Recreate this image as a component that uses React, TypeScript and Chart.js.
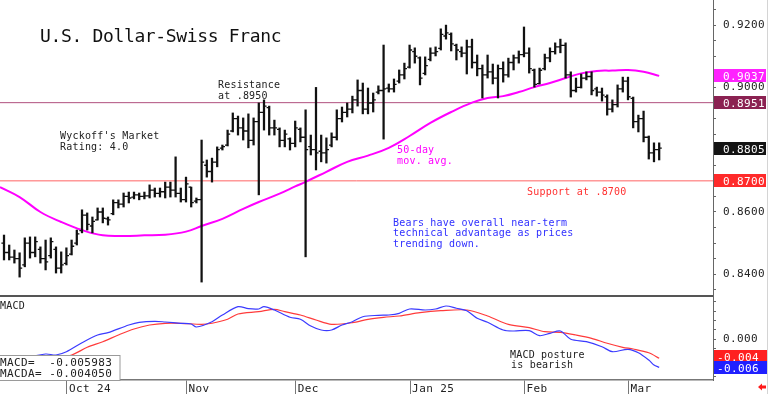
import React, { useEffect, useRef } from "react";
import { Chart, registerables } from "chart.js";

Chart.register(...registerables);

// ---- price bars (one per trading day, index 0 = first bar) ----
const highs = [
  0.8526, 0.8494, 0.8478, 0.8469, 0.8517, 0.852, 0.852, 0.8488, 0.851, 0.8517,
  0.8488, 0.8472, 0.8485, 0.851, 0.8542, 0.8607, 0.8597, 0.8584, 0.8613, 0.8613,
  0.8584, 0.8639, 0.8639, 0.8661, 0.8664, 0.8664, 0.8661, 0.8664, 0.8687, 0.8677,
  0.8677, 0.8696, 0.8696, 0.8777, 0.8677, 0.8712, 0.868, 0.8645, 0.8831, 0.8767,
  0.8773, 0.8809, 0.8815, 0.8863, 0.8918, 0.8908, 0.8902, 0.8915, 0.8902, 0.895,
  0.896, 0.894, 0.8895, 0.887, 0.8863, 0.8838, 0.8892, 0.887, 0.8928, 0.8847,
  0.9, 0.8847, 0.8838, 0.8854, 0.8928, 0.8937, 0.895, 0.8972, 0.9024, 0.9014,
  0.8998, 0.8982, 0.9005, 0.9136, 0.9011, 0.9027, 0.9056, 0.9078, 0.9136, 0.9127,
  0.9098, 0.9098, 0.9127, 0.913, 0.9188, 0.92, 0.9175, 0.9139, 0.913, 0.9152,
  0.9155, 0.9104, 0.9072, 0.9104, 0.9075, 0.9072, 0.9082, 0.9094, 0.9104, 0.9117,
  0.9194, 0.9127, 0.9059, 0.9062, 0.9107, 0.9127, 0.9143, 0.9155, 0.9143, 0.905,
  0.903, 0.9043, 0.905, 0.905, 0.9001, 0.8998, 0.8976, 0.896, 0.9008, 0.9033,
  0.9033, 0.8969, 0.8911, 0.8924, 0.8844, 0.8822, 0.8822,
];
const lows = [
  0.8446, 0.8446, 0.8436, 0.8391, 0.8424, 0.8452, 0.8456, 0.8436, 0.8414, 0.8452,
  0.8404, 0.8404, 0.843, 0.8462, 0.8494, 0.8533, 0.8542, 0.8533, 0.8574, 0.8565,
  0.8558, 0.8591, 0.8613, 0.8616, 0.8629, 0.8642, 0.8639, 0.8642, 0.8645, 0.8648,
  0.8648, 0.8645, 0.8648, 0.8648, 0.8632, 0.8632, 0.8616, 0.8629, 0.8375, 0.8712,
  0.8696, 0.8745, 0.8799, 0.8812, 0.8857, 0.8847, 0.8831, 0.8806, 0.8815, 0.8655,
  0.8863, 0.8847, 0.8847, 0.8809, 0.8809, 0.8799, 0.8809, 0.8825, 0.8456, 0.8783,
  0.8735, 0.8761, 0.8757, 0.8809, 0.8831, 0.8889, 0.8905, 0.8918, 0.894, 0.8915,
  0.8915, 0.8921, 0.8979, 0.8834, 0.8985, 0.8985, 0.9014, 0.9027, 0.9062, 0.9078,
  0.9008, 0.904, 0.9085, 0.9101, 0.912, 0.9155, 0.9117, 0.9088, 0.9098, 0.9043,
  0.9062, 0.9037, 0.8966, 0.903, 0.9011, 0.8966, 0.9017, 0.9033, 0.9056, 0.9078,
  0.9098, 0.9046, 0.9001, 0.9011, 0.9056, 0.9082, 0.9107, 0.9111, 0.903, 0.8969,
  0.8985, 0.8998, 0.9024, 0.8976, 0.8972, 0.8956, 0.8911, 0.8921, 0.8937, 0.8985,
  0.896, 0.887, 0.8857, 0.8825, 0.877, 0.8761, 0.8767,
];
const opens = [
  0.85, 0.847, 0.8455, 0.845, 0.843, 0.85, 0.847, 0.848, 0.845, 0.846,
  0.848, 0.842, 0.8435, 0.8465, 0.85, 0.854, 0.859, 0.8555, 0.8575, 0.86,
  0.8578, 0.8595, 0.863, 0.8625, 0.865, 0.8648, 0.8655, 0.865, 0.8652, 0.867,
  0.866, 0.8665, 0.868, 0.867, 0.866, 0.864, 0.868, 0.8635, 0.864, 0.875,
  0.873, 0.876, 0.8805, 0.8815, 0.886, 0.89, 0.887, 0.886, 0.883, 0.889,
  0.892, 0.8935, 0.887, 0.8865, 0.883, 0.8835, 0.882, 0.8865, 0.884, 0.881,
  0.88, 0.8795, 0.879, 0.8815, 0.884, 0.89, 0.892, 0.893, 0.896, 0.899,
  0.893, 0.895, 0.8985, 0.899, 0.8998, 0.8995, 0.902, 0.904, 0.9065, 0.9115,
  0.9095, 0.9045, 0.909, 0.911, 0.9125, 0.9165, 0.917, 0.9135, 0.9115, 0.911,
  0.913, 0.908, 0.906, 0.904, 0.905, 0.903, 0.906, 0.904, 0.908, 0.9095,
  0.9105, 0.911, 0.9055, 0.9012, 0.906, 0.9095, 0.9115, 0.913, 0.9135, 0.904,
  0.899, 0.9, 0.903, 0.9035, 0.8995, 0.8985, 0.897, 0.893, 0.8945, 0.8995,
  0.902, 0.8965, 0.889, 0.89, 0.884, 0.879, 0.88,
];
const closes = [
  0.847, 0.8455, 0.845, 0.842, 0.85, 0.847, 0.8505, 0.845, 0.844, 0.8505,
  0.842, 0.843, 0.846, 0.849, 0.853, 0.859, 0.856, 0.857, 0.86, 0.858,
  0.8575, 0.863, 0.8625, 0.865, 0.8645, 0.8655, 0.865, 0.8652, 0.867, 0.866,
  0.8665, 0.868, 0.867, 0.866, 0.864, 0.869, 0.863, 0.864, 0.876, 0.873,
  0.876, 0.88, 0.881, 0.885, 0.89, 0.887, 0.886, 0.883, 0.889, 0.892,
  0.894, 0.887, 0.887, 0.883, 0.885, 0.882, 0.887, 0.884, 0.88, 0.88,
  0.879, 0.879, 0.88, 0.884, 0.89, 0.892, 0.893, 0.896, 0.899, 0.893,
  0.895, 0.896, 0.899, 0.8995, 0.8995, 0.901, 0.904, 0.906, 0.912, 0.91,
  0.903, 0.907, 0.911, 0.9115, 0.917, 0.9175, 0.914, 0.912, 0.911, 0.913,
  0.908, 0.906, 0.904, 0.905, 0.903, 0.906, 0.904, 0.908, 0.9095, 0.9105,
  0.911, 0.906, 0.901, 0.9055, 0.9095, 0.9115, 0.913, 0.9135, 0.904, 0.899,
  0.9, 0.903, 0.9035, 0.899, 0.8985, 0.8975, 0.893, 0.8945, 0.8995, 0.902,
  0.897, 0.889, 0.89, 0.884, 0.879, 0.88, 0.8805,
];

// ---- 50-day moving average (bar index, value) ----
const maIdx = [-0.77, 3, 7, 11, 15, 19, 23, 27, 31, 35, 38, 42, 46, 49, 53, 56, 58, 62, 66, 70, 74, 78, 82, 86, 90, 93, 96, 99, 102, 105, 108, 111, 114, 117, 120, 123, 126];
const maVal = [0.868, 0.8648, 0.86, 0.8568, 0.8542, 0.8525, 0.8523, 0.8525, 0.8527, 0.8537, 0.8555, 0.8578, 0.861, 0.8632, 0.8659, 0.8682, 0.8697, 0.8729, 0.8761, 0.8781, 0.8806, 0.8844, 0.8886, 0.8921, 0.8951, 0.8966, 0.8972, 0.8985, 0.9001, 0.9014, 0.903, 0.9045, 0.9053, 0.9054, 0.9056, 0.905, 0.9037];

// ---- MACD (blue) and MACD average (red) ----
const macdIdx = [0, 3, 8, 10, 12, 15, 18, 20, 24, 26, 29, 31, 34, 36, 37, 40, 42, 45, 47, 49, 50, 52, 55, 57, 59, 61, 63, 65, 67, 69, 72, 74, 76, 78, 81, 83, 85, 87, 89, 91, 93, 96, 98, 101, 103, 105, 107, 109, 112, 115, 117, 120, 122, 124, 125, 126];
const macdVal = [-0.0052, -0.0042, -0.00314, -0.00335, -0.00265, -0.00073, 0.00092, 0.00141, 0.00305, 0.00363, 0.00384, 0.00369, 0.00342, 0.00327, 0.00263, 0.00376, 0.00519, 0.00696, 0.00653, 0.00647, 0.00696, 0.00625, 0.0047, 0.00427, 0.00284, 0.00199, 0.00199, 0.00305, 0.00376, 0.00482, 0.00512, 0.00519, 0.00555, 0.00647, 0.00625, 0.00647, 0.00711, 0.00662, 0.0061, 0.00448, 0.00363, 0.00199, 0.00177, 0.00184, 0.00077, 0.00128, 0.00177, 0.0, -0.00051, -0.00158, -0.00265, -0.00213, -0.00286, -0.00442, -0.00549, -0.005983];
const sigIdx = [0, 5, 9, 13, 16, 19, 22, 25, 28, 31, 34, 38, 40, 43, 45, 49, 52, 54, 57, 60, 63, 67, 70, 73, 76, 80, 84, 89, 93, 97, 101, 104, 107, 110, 113, 116, 119, 121, 124, 126];
const sigVal = [-0.006, -0.005, -0.0042, -0.00335, -0.00171, -0.00051, 0.00092, 0.0022, 0.00305, 0.00342, 0.00342, 0.0032, 0.00342, 0.00427, 0.0054, 0.00589, 0.0064, 0.00589, 0.00519, 0.00412, 0.0032, 0.00354, 0.00427, 0.0047, 0.00497, 0.00568, 0.0061, 0.00625, 0.00497, 0.0032, 0.00248, 0.00162, 0.00149, 0.00092, 0.00021, -0.00085, -0.00171, -0.00207, -0.00286, -0.00405];

// ---- axis ticks and reference levels ----
const dateTickIdx = [12, 35, 56, 78, 100, 120];
const dateTickLabels = ["Oct 24", "Nov", "Dec", "Jan 25", "Feb", "Mar"];
const priceTickStep = 0.005;
const priceLabelStep = 0.02;
const macdTickStep = 0.002;
const resistance = 0.8951;
const support = 0.87;
const lastClose = 0.8805;
const maLast = 0.9037;
const macdLast = -0.005983;
const macdaLast = -0.00405;

const X_MIN = -0.77;
const X_MAX = 136.35;
const P_MIN = 0.83271;
const P_MAX = 0.92806;
const M_MIN = -0.008687;
const M_MAX = 0.009029;

const MONO = '"DejaVu Sans Mono", "Liberation Mono", monospace';

function stepTicks(s: any, step: number) {
  const out: any[] = [];
  const start = Math.ceil(s.min / step - 1e-9);
  for (let k = start; k * step <= s.max + 1e-12; k++) {
    out.push({ value: Math.round(k * step * 1e6) / 1e6 });
  }
  s.ticks = out;
}

function drawText(ctx: any, s: string, x: number, y: number, color: string, size: number, spacing: number) {
  ctx.save();
  ctx.font = `${size}px ${MONO}`;
  ctx.fillStyle = color;
  ctx.letterSpacing = `${spacing}px`;
  ctx.textAlign = "left";
  ctx.textBaseline = "alphabetic";
  ctx.fillText(s, x, y);
  ctx.restore();
}

function valueBox(ctx: any, yc: number, x0: number, x1: number, bg: string, label: string, tx: number) {
  ctx.save();
  ctx.fillStyle = bg;
  ctx.fillRect(x0, Math.round(yc - 6.5), x1 - x0, 13);
  ctx.restore();
  drawText(ctx, label, tx, yc + 4.5, "#ffffff", 11, 0.4);
}

const spacingPlugin = {
  id: "spacing",
  beforeDraw(chart: any) {
    chart.ctx.letterSpacing = "0.4px";
  },
};

const ohlcTicks = {
  id: "ohlcTicks",
  afterDatasetsDraw(chart: any) {
    const xs = chart.scales.x;
    const ys = chart.scales.y;
    const ctx = chart.ctx;
    ctx.save();
    ctx.strokeStyle = "#111";
    ctx.lineWidth = 1.3;
    ctx.beginPath();
    for (let i = 0; i < highs.length; i++) {
      const px = xs.getPixelForValue(i);
      const po = ys.getPixelForValue(opens[i]);
      const pc = ys.getPixelForValue(closes[i]);
      ctx.moveTo(px - 2.6, po);
      ctx.lineTo(px, po);
      ctx.moveTo(px, pc);
      ctx.lineTo(px + 2.6, pc);
    }
    ctx.stroke();
    ctx.restore();
  },
};

const priceDecor = {
  id: "priceDecor",
  afterDraw(chart: any) {
    const ctx = chart.ctx;
    const ys = chart.scales.y;
    const area = chart.chartArea;
    drawText(ctx, "U.S. Dollar-Swiss Franc", 40, 42, "#111", 18, -0.35);
    drawText(ctx, "Resistance", 218, 87.5, "#222", 10, 0.2);
    drawText(ctx, "at .8950", 218, 98.5, "#222", 10, 0.2);
    drawText(ctx, "Wyckoff's Market", 60, 139, "#222", 10, 0.2);
    drawText(ctx, "Rating: 4.0", 60, 149.5, "#222", 10, 0.2);
    drawText(ctx, "50-day", 397, 153, "#ff00ff", 10, 0.2);
    drawText(ctx, "mov. avg.", 397, 164, "#ff00ff", 10, 0.2);
    drawText(ctx, "Support at .8700", 527, 195, "#ff3030", 10, 0.2);
    drawText(ctx, "Bears have overall near-term", 393, 226, "#3030ff", 10, 0.2);
    drawText(ctx, "technical advantage as prices", 393, 236.3, "#3030ff", 10, 0.2);
    drawText(ctx, "trending down.", 393, 246.5, "#3030ff", 10, 0.2);
    ctx.save();
    ctx.fillStyle = "#555";
    ctx.fillRect(0, 295, area.right, 2);
    ctx.strokeStyle = "#d4d4d4";
    ctx.lineWidth = 1;
    ctx.beginPath();
    ctx.moveTo(767.5, 0);
    ctx.lineTo(767.5, 297);
    ctx.stroke();
    ctx.restore();
    const x0 = area.right + 1;
    valueBox(ctx, ys.getPixelForValue(maLast), x0, 766, "#ff22ff", maLast.toFixed(4), 723);
    valueBox(ctx, ys.getPixelForValue(resistance), x0, 766, "#8b2252", resistance.toFixed(4), 723);
    valueBox(ctx, ys.getPixelForValue(lastClose), x0, 766, "#141414", lastClose.toFixed(4), 723);
    valueBox(ctx, ys.getPixelForValue(support), x0, 766, "#ff2a2a", support.toFixed(4), 723);
  },
};

const macdDecor = {
  id: "macdDecor",
  afterDraw(chart: any) {
    const ctx = chart.ctx;
    const ys = chart.scales.y;
    const area = chart.chartArea;
    drawText(ctx, "MACD", 0, 11.5, "#222", 10, 0.2);
    drawText(ctx, "MACD posture", 510, 60.5, "#222", 10, 0.2);
    drawText(ctx, "is bearish", 511, 70.8, "#222", 10, 0.2);
    ctx.save();
    ctx.fillStyle = "#ffffff";
    ctx.fillRect(0, 58, 120, area.bottom - 58);
    ctx.strokeStyle = "#9a9a9a";
    ctx.lineWidth = 1;
    ctx.strokeRect(-0.5, 58.5, 120.5, area.bottom - 58);
    ctx.restore();
    drawText(ctx, "MACD=  " + macdLast.toFixed(6), 0, 68.5, "#222", 11, 0.4);
    drawText(ctx, "MACDA= " + macdaLast.toFixed(6), 0, 80, "#222", 11, 0.4);
    const x0 = area.right + 1;
    valueBox(ctx, ys.getPixelForValue(macdaLast) - 1.5, x0, 768, "#ff2020", macdaLast.toFixed(3), 717);
    valueBox(ctx, ys.getPixelForValue(macdLast) + 0.5, x0, 768, "#2020ff", macdLast.toFixed(3), 717);
    ctx.save();
    ctx.strokeStyle = "#d4d4d4";
    ctx.lineWidth = 1;
    ctx.beginPath();
    ctx.moveTo(767.5, 0);
    ctx.lineTo(767.5, 97);
    ctx.stroke();
    ctx.fillStyle = "#ff1a1a";
    ctx.beginPath();
    ctx.moveTo(758, 90);
    ctx.lineTo(762, 86.5);
    ctx.lineTo(762, 88.6);
    ctx.lineTo(766, 88.6);
    ctx.lineTo(766, 91.4);
    ctx.lineTo(762, 91.4);
    ctx.lineTo(762, 93.5);
    ctx.closePath();
    ctx.fill();
    ctx.restore();
  },
};

export default function App() {
  const priceRef = useRef<HTMLCanvasElement>(null);
  const macdRef = useRef<HTMLCanvasElement>(null);

  useEffect(() => {
    const tickFont = { family: MONO, size: 11 };
    const priceChart = new Chart(priceRef.current as HTMLCanvasElement, {
      type: "bar",
      data: {
        datasets: [
          {
            type: "bar",
            data: highs.map((h, i) => ({ x: i, y: [lows[i], h] })) as any,
            backgroundColor: "#111",
            borderWidth: 0,
            barThickness: 1.6,
          } as any,
          {
            type: "line",
            data: maIdx.map((x, k) => ({ x, y: maVal[k] })),
            borderColor: "#ff00ff",
            borderWidth: 2,
            pointRadius: 0,
            tension: 0.4,
          } as any,
          {
            type: "line",
            data: [
              { x: X_MIN, y: resistance },
              { x: X_MAX, y: resistance },
            ],
            borderColor: "#b0507e",
            borderWidth: 1,
            pointRadius: 0,
          } as any,
          {
            type: "line",
            data: [
              { x: X_MIN, y: support },
              { x: X_MAX, y: support },
            ],
            borderColor: "#ff6464",
            borderWidth: 1,
            pointRadius: 0,
          } as any,
        ],
      },
      options: {
        responsive: false,
        animation: false,
        devicePixelRatio: 1,
        events: [],
        layout: { padding: 0 },
        plugins: { legend: { display: false }, tooltip: { enabled: false } },
        scales: {
          x: {
            type: "linear",
            min: X_MIN,
            max: X_MAX,
            bounds: "data",
            offset: false,
            display: false,
            grid: { offset: false },
          },
          y: {
            type: "linear",
            position: "right",
            min: P_MIN,
            max: P_MAX,
            bounds: "data",
            beginAtZero: false,
            afterBuildTicks: (s: any) => stepTicks(s, priceTickStep),
            ticks: {
              autoSkip: false,
              padding: 7,
              color: "#222",
              font: tickFont,
              callback: (v: any) => {
                const n = Number(v);
                const r = n / priceLabelStep;
                return Math.abs(r - Math.round(r)) < 1e-6 ? n.toFixed(4) : "";
              },
            },
            grid: { drawOnChartArea: false, tickLength: 3, color: "#666" },
            border: { color: "#666", width: 1 },
            afterFit: (s: any) => {
              s.width = 55;
              s.paddingTop = 0;
              s.paddingBottom = 0;
            },
          },
        },
      } as any,
      plugins: [spacingPlugin, ohlcTicks, priceDecor],
    });

    const macdChart = new Chart(macdRef.current as HTMLCanvasElement, {
      type: "line",
      data: {
        datasets: [
          {
            data: macdIdx.map((x, k) => ({ x, y: macdVal[k] })),
            borderColor: "#3b3bff",
            borderWidth: 1.2,
            pointRadius: 0,
            tension: 0.3,
          },
          {
            data: sigIdx.map((x, k) => ({ x, y: sigVal[k] })),
            borderColor: "#ff3b3b",
            borderWidth: 1.2,
            pointRadius: 0,
            tension: 0.3,
          },
        ],
      },
      options: {
        responsive: false,
        animation: false,
        devicePixelRatio: 1,
        events: [],
        layout: { padding: 0 },
        plugins: { legend: { display: false }, tooltip: { enabled: false } },
        scales: {
          x: {
            type: "linear",
            min: X_MIN,
            max: X_MAX,
            bounds: "data",
            offset: false,
            afterBuildTicks: (s: any) => {
              s.ticks = dateTickIdx.map((v) => ({ value: v + 0.1 }));
            },
            ticks: {
              autoSkip: false,
              maxRotation: 0,
              minRotation: 0,
              align: "start",
              labelOffset: 2,
              padding: -11,
              color: "#222",
              font: tickFont,
              callback: (_v: any, idx: number) => dateTickLabels[idx],
            },
            grid: { drawOnChartArea: false, tickLength: 14, color: "#777", offset: false },
            border: { color: "#777", width: 1.5 },
            afterFit: (s: any) => {
              s.height = 14;
              s.paddingLeft = 0;
              s.paddingRight = 0;
            },
          },
          y: {
            type: "linear",
            position: "right",
            min: M_MIN,
            max: M_MAX,
            bounds: "data",
            afterBuildTicks: (s: any) => stepTicks(s, macdTickStep),
            ticks: {
              autoSkip: false,
              padding: 7,
              color: "#222",
              font: tickFont,
              callback: (v: any) => (Math.abs(Number(v)) < 1e-9 ? (0).toFixed(3) : ""),
            },
            grid: { drawOnChartArea: false, tickLength: 3, color: "#666" },
            border: { color: "#666", width: 1 },
            afterFit: (s: any) => {
              s.width = 55;
              s.paddingTop = 0;
              s.paddingBottom = 0;
            },
          },
        },
      } as any,
      plugins: [spacingPlugin, macdDecor],
    });

    return () => {
      priceChart.destroy();
      macdChart.destroy();
    };
  }, []);

  return (
    <div style={{ position: "absolute", left: 0, top: 0, width: 768, height: 394, background: "#fff" }}>
      <canvas ref={priceRef} width={768} height={297} style={{ display: "block", width: 768, height: 297 }} />
      <canvas ref={macdRef} width={768} height={97} style={{ display: "block", width: 768, height: 97 }} />
    </div>
  );
}
